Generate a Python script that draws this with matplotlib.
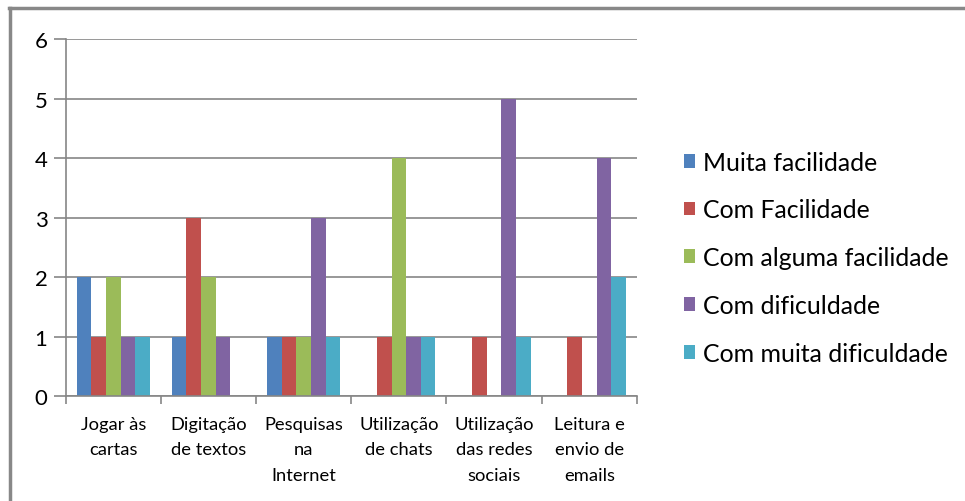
import matplotlib.pyplot as plt
import numpy as np
from matplotlib.patches import Patch
from matplotlib.lines import Line2D

plt.rcParams['font.family'] = ['Lato', 'DejaVu Sans']

categorias = ['Jogar às\ncartas', 'Digitação\nde textos', 'Pesquisas\nna\nInternet',
              'Utilização\nde chats', 'Utilização\ndas redes\nsociais', 'Leitura e\nenvio de\nemails']
series = ['Muita facilidade', 'Com Facilidade', 'Com alguma facilidade',
          'Com dificuldade', 'Com muita dificuldade']
muita_facilidade = [2, 1, 1, 0, 0, 0]
com_facilidade = [1, 3, 1, 1, 1, 1]
alguma_facilidade = [2, 2, 1, 4, 0, 0]
com_dificuldade = [1, 1, 3, 1, 5, 4]
muita_dificuldade = [1, 0, 1, 1, 1, 2]
cores = ['#4F81BD', '#C0504D', '#9BBB59', '#8064A2', '#4BACC6']

valores = [muita_facilidade, com_facilidade, alguma_facilidade, com_dificuldade, muita_dificuldade]

fig = plt.figure(figsize=(9.65, 5.02), dpi=100)
ax = fig.add_axes([0.068, 0.209, 0.592, 0.711])

x = np.arange(len(categorias))
largura = 1 / 6.5
for i, (vals, cor) in enumerate(zip(valores, cores)):
    ax.bar(x + (i - 2) * largura, vals, largura, color=cor, label=series[i], zorder=3)

cinza = '#868686'
ax.set_xlim(-0.5, 5.5)
ax.set_ylim(0, 6)
ax.set_yticks(range(7))
ax.yaxis.grid(True, color=cinza, linewidth=1.2, zorder=0)
for s in ['top', 'right']:
    ax.spines[s].set_visible(False)
for s in ['left', 'bottom']:
    ax.spines[s].set_color(cinza)
    ax.spines[s].set_linewidth(1.2)
    ax.spines[s].set_zorder(4)

ax.set_xticks(np.arange(-0.5, 6, 1))
ax.set_xticklabels([])
ax.set_xticks(x, minor=True)
ax.set_xticklabels(categorias, minor=True, fontsize=13.2, linespacing=1.75)
ax.tick_params(axis='x', which='major', length=6, color=cinza, width=1.2)
ax.tick_params(axis='x', which='minor', length=0, pad=14)
ax.tick_params(axis='y', length=9, color=cinza, width=1.2, labelsize=16, pad=4)

handles = [Patch(facecolor=c, edgecolor='none') for c in cores]
fig.legend(handles, series, loc='upper left', bbox_to_anchor=(0.698, 0.718),
           frameon=False, fontsize=17.9, handlelength=0.48, handleheight=0.48,
           handletextpad=0.32, labelspacing=1.0, borderaxespad=0)

# moldura do grafico
fig.add_artist(Line2D([0.0095, 1.0], [0.982, 0.982], color='#888888', linewidth=2.5))
fig.add_artist(Line2D([0.0105, 0.0105], [0.0, 0.982], color='#888888', linewidth=2.5))

plt.savefig('out.png', dpi=100)
